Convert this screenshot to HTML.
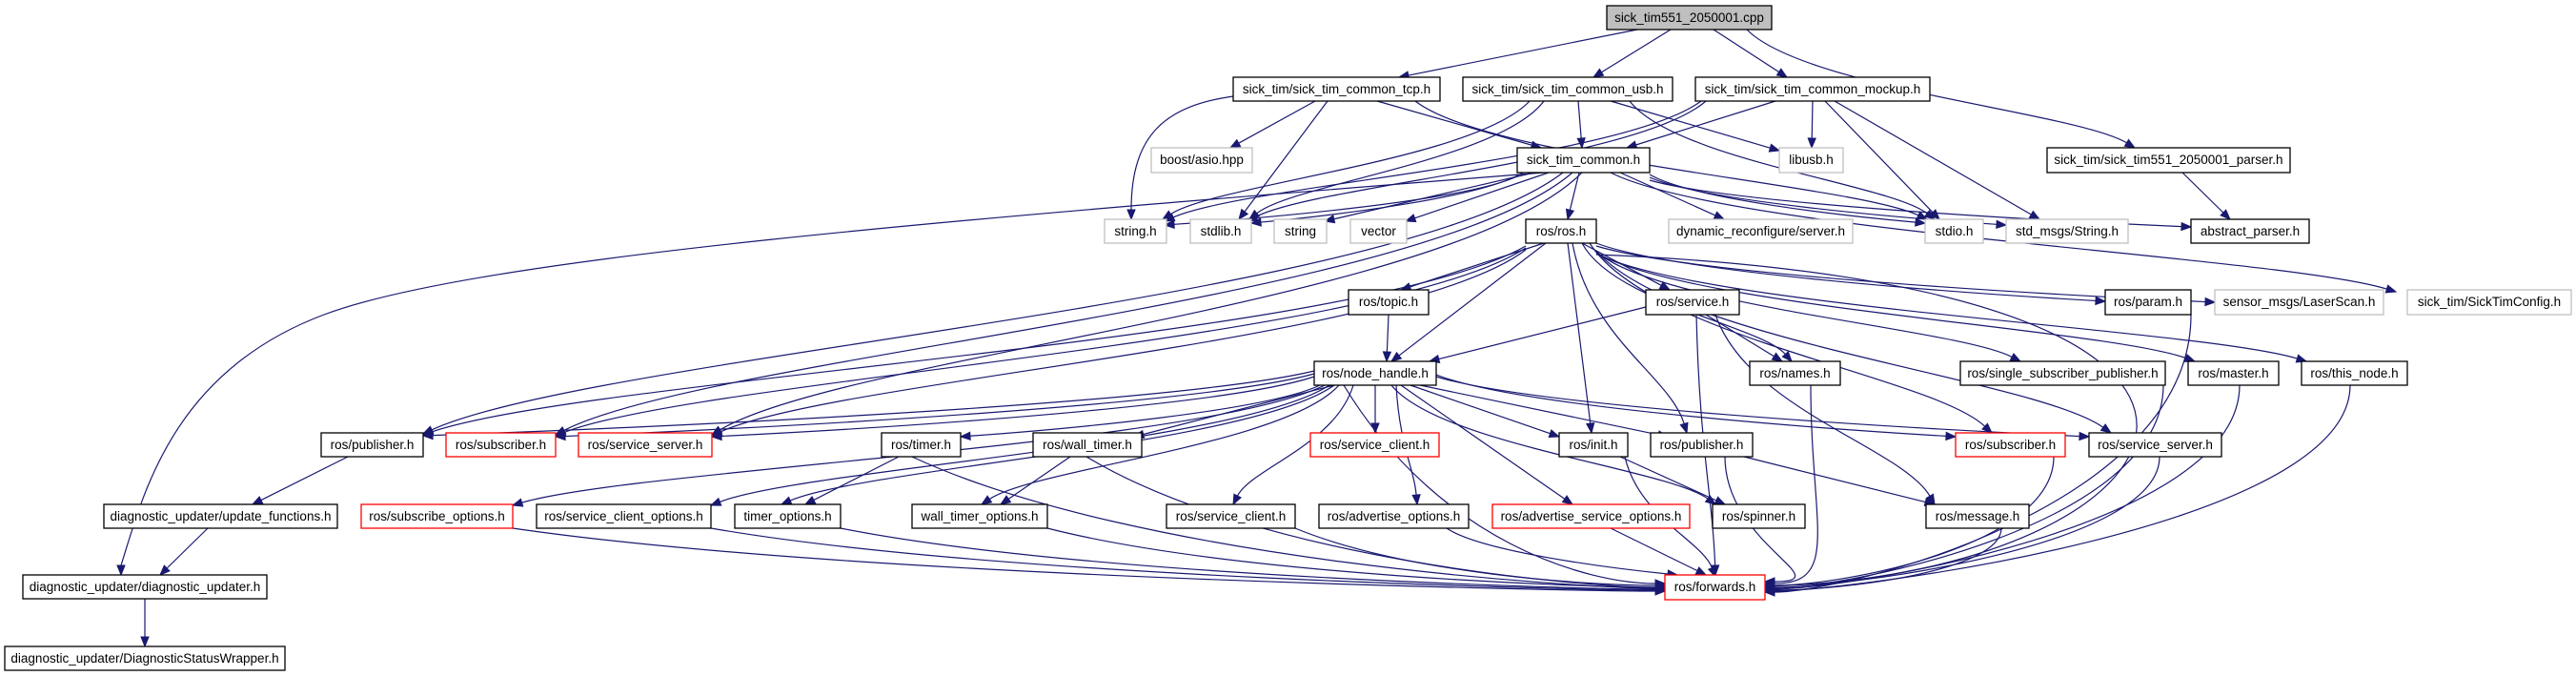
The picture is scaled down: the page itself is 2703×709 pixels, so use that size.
<!DOCTYPE html>
<html><head><meta charset="utf-8"><style>
html,body{margin:0;padding:0;background:#fff;}
svg{display:block;}
text{font-family:"Liberation Sans",sans-serif;font-size:13.5px;fill:#000;}
rect{fill:#fff;stroke-width:1.3;}
.b{stroke:#000;}
.g{stroke:#bfbfbf;}
.r{stroke:#ff0000;}
.root{fill:#bfbfbf;stroke:#000;}
</style></head><body>
<svg id="s" width="2703" height="709" viewBox="0 0 2703 709" xmlns="http://www.w3.org/2000/svg">
<g id="edges" fill="none" stroke="#191970" stroke-width="1.2"></g>
<g id="heads" fill="#191970" stroke="#191970"></g>
<g id="nodes">
<rect class="root" x="1686" y="6" width="173" height="25"/><text x="1772.5" y="23" text-anchor="middle">sick_tim551_2050001.cpp</text>
<rect class="b" x="1294" y="81" width="217" height="25"/><text x="1402.5" y="98" text-anchor="middle">sick_tim/sick_tim_common_tcp.h</text>
<rect class="b" x="1535" y="81" width="220" height="25"/><text x="1645" y="98" text-anchor="middle">sick_tim/sick_tim_common_usb.h</text>
<rect class="b" x="1779" y="81" width="246" height="25"/><text x="1902" y="98" text-anchor="middle">sick_tim/sick_tim_common_mockup.h</text>
<rect class="g" x="1208" y="155" width="106" height="26"/><text x="1261" y="172" text-anchor="middle">boost/asio.hpp</text>
<rect class="b" x="1592" y="155" width="139" height="26"/><text x="1661.5" y="172" text-anchor="middle">sick_tim_common.h</text>
<rect class="g" x="1867" y="155" width="67" height="26"/><text x="1900.5" y="172" text-anchor="middle">libusb.h</text>
<rect class="b" x="2148" y="155" width="255" height="26"/><text x="2275.5" y="172" text-anchor="middle">sick_tim/sick_tim551_2050001_parser.h</text>
<rect class="g" x="1159" y="230" width="65" height="25"/><text x="1191.5" y="247" text-anchor="middle">string.h</text>
<rect class="g" x="1249" y="230" width="64" height="25"/><text x="1281" y="247" text-anchor="middle">stdlib.h</text>
<rect class="g" x="1337" y="230" width="55" height="25"/><text x="1364.5" y="247" text-anchor="middle">string</text>
<rect class="g" x="1417" y="230" width="59" height="25"/><text x="1446.5" y="247" text-anchor="middle">vector</text>
<rect class="b" x="1601" y="230" width="74" height="25"/><text x="1638" y="247" text-anchor="middle">ros/ros.h</text>
<rect class="g" x="1751" y="230" width="193" height="25"/><text x="1847.5" y="247" text-anchor="middle">dynamic_reconfigure/server.h</text>
<rect class="g" x="2020" y="230" width="61" height="25"/><text x="2050.5" y="247" text-anchor="middle">stdio.h</text>
<rect class="g" x="2105" y="230" width="128" height="25"/><text x="2169" y="247" text-anchor="middle">std_msgs/String.h</text>
<rect class="b" x="2299" y="230" width="124" height="25"/><text x="2361" y="247" text-anchor="middle">abstract_parser.h</text>
<rect class="b" x="1415" y="304" width="84" height="26"/><text x="1457" y="321" text-anchor="middle">ros/topic.h</text>
<rect class="b" x="1727" y="304" width="98" height="26"/><text x="1776" y="321" text-anchor="middle">ros/service.h</text>
<rect class="b" x="2209" y="304" width="90" height="26"/><text x="2254" y="321" text-anchor="middle">ros/param.h</text>
<rect class="g" x="2324" y="304" width="177" height="26"/><text x="2412.5" y="321" text-anchor="middle">sensor_msgs/LaserScan.h</text>
<rect class="g" x="2526" y="304" width="172" height="26"/><text x="2612" y="321" text-anchor="middle">sick_tim/SickTimConfig.h</text>
<rect class="b" x="1379" y="379" width="128" height="25"/><text x="1443" y="396" text-anchor="middle">ros/node_handle.h</text>
<rect class="b" x="1836" y="379" width="95" height="25"/><text x="1883.5" y="396" text-anchor="middle">ros/names.h</text>
<rect class="b" x="2057" y="379" width="215" height="25"/><text x="2164.5" y="396" text-anchor="middle">ros/single_subscriber_publisher.h</text>
<rect class="b" x="2296" y="379" width="95" height="25"/><text x="2343.5" y="396" text-anchor="middle">ros/master.h</text>
<rect class="b" x="2415" y="379" width="111" height="25"/><text x="2470.5" y="396" text-anchor="middle">ros/this_node.h</text>
<rect class="b" x="337" y="454" width="107" height="25"/><text x="390.5" y="471" text-anchor="middle">ros/publisher.h</text>
<rect class="r" x="468" y="454" width="115" height="25"/><text x="525.5" y="471" text-anchor="middle">ros/subscriber.h</text>
<rect class="r" x="607" y="454" width="140" height="25"/><text x="677" y="471" text-anchor="middle">ros/service_server.h</text>
<rect class="b" x="925" y="454" width="83" height="25"/><text x="966.5" y="471" text-anchor="middle">ros/timer.h</text>
<rect class="b" x="1084" y="454" width="114" height="25"/><text x="1141" y="471" text-anchor="middle">ros/wall_timer.h</text>
<rect class="r" x="1375" y="454" width="135" height="25"/><text x="1442.5" y="471" text-anchor="middle">ros/service_client.h</text>
<rect class="b" x="1636" y="454" width="72" height="25"/><text x="1672" y="471" text-anchor="middle">ros/init.h</text>
<rect class="b" x="1732" y="454" width="107" height="25"/><text x="1785.5" y="471" text-anchor="middle">ros/publisher.h</text>
<rect class="r" x="2052" y="454" width="115" height="25"/><text x="2109.5" y="471" text-anchor="middle">ros/subscriber.h</text>
<rect class="b" x="2192" y="454" width="139" height="25"/><text x="2261.5" y="471" text-anchor="middle">ros/service_server.h</text>
<rect class="b" x="109" y="529" width="245" height="25"/><text x="231.5" y="546" text-anchor="middle">diagnostic_updater/update_functions.h</text>
<rect class="r" x="379" y="529" width="159" height="25"/><text x="458.5" y="546" text-anchor="middle">ros/subscribe_options.h</text>
<rect class="b" x="563" y="529" width="183" height="25"/><text x="654.5" y="546" text-anchor="middle">ros/service_client_options.h</text>
<rect class="b" x="771" y="529" width="111" height="25"/><text x="826.5" y="546" text-anchor="middle">timer_options.h</text>
<rect class="b" x="957" y="529" width="142" height="25"/><text x="1028" y="546" text-anchor="middle">wall_timer_options.h</text>
<rect class="b" x="1224" y="529" width="135" height="25"/><text x="1291.5" y="546" text-anchor="middle">ros/service_client.h</text>
<rect class="b" x="1384" y="529" width="157" height="25"/><text x="1462.5" y="546" text-anchor="middle">ros/advertise_options.h</text>
<rect class="r" x="1566" y="529" width="207" height="25"/><text x="1669.5" y="546" text-anchor="middle">ros/advertise_service_options.h</text>
<rect class="b" x="1797" y="529" width="97" height="25"/><text x="1845.5" y="546" text-anchor="middle">ros/spinner.h</text>
<rect class="b" x="2021" y="529" width="108" height="25"/><text x="2075" y="546" text-anchor="middle">ros/message.h</text>
<rect class="b" x="24" y="603" width="256" height="25"/><text x="152" y="620" text-anchor="middle">diagnostic_updater/diagnostic_updater.h</text>
<rect class="r" x="1747" y="603" width="105" height="26"/><text x="1799.5" y="620" text-anchor="middle">ros/forwards.h</text>
<rect class="b" x="5" y="678" width="294" height="25"/><text x="152" y="695" text-anchor="middle">diagnostic_updater/DiagnosticStatusWrapper.h</text>
</g>
</svg>
<script>
var E=[
[1718,31,1468,81,'s'],[1753,31,1672,81,'s'],[1798,31,1875,81,'s'],[1833,31,2240,155,'c'],
[1294,101,1187,230,'tcp'],[1380,106,1291,155,'s'],[1393,106,1300,230,'s'],[1445,106,1617,155,'s'],[1485,106,2022,230,'c'],
[1605,106,1220,230,'c'],[1620,106,1311,230,'c'],[1656,106,1660,155,'s'],[1690,106,1867,158,'s'],[1710,106,2030,230,'c'],
[1785,106,1222,232,'c'],[1790,106,1309,232,'c'],[1863,106,1707,155,'s'],[1902,106,1901,155,'s'],[1915,106,2035,230,'s'],[1925,106,2140,230,'s'],
[2290,181,2340,230,'s'],
[1592,185,1222,236,'c'],[1598,181,1313,234,'c'],[1610,181,1390,232,'s'],[1625,181,1475,232,'s'],[1657,181,1645,230,'s'],[1700,181,1809,230,'s'],
[1731,183,2020,234,'c'],[1731,186,2105,236,'c'],[1731,189,2299,238,'c'],[1690,181,2514,306,'c'],
[1620,181,127,603,'diag'],[1640,181,444,455,'c'],[1650,181,583,456,'c'],[1660,181,747,456,'c'],
[1620,255,1470,304,'s'],[1660,255,1752,304,'s'],[1622,255,1460,379,'s'],[1645,255,1670,454,'s'],[1650,255,1770,454,'c'],
[1675,255,2209,316,'c'],[1675,258,2324,317,'c'],[1660,255,1880,379,'c'],[1668,255,2090,454,'c'],[1675,263,2215,454,'c'],
[1675,264,2120,379,'c'],[1675,265,2303,379,'c'],[1675,266,2420,379,'c'],[1675,267,1852,615,'far'],
[1601,258,444,456,'c'],[1601,260,583,457,'c'],[1601,262,747,457,'c'],
[1457,330,1455,379,'s'],[1727,322,1500,379,'s'],[1790,330,1870,379,'s'],[1800,330,2030,529,'c'],[1780,330,1800,603,'c'],
[1379,389,444,457,'c'],[1379,392,583,458,'c'],[1379,395,747,458,'c'],[1385,404,1008,458,'c'],[1400,404,1190,458,'s'],
[1443,404,1443,454,'s'],[1480,404,1636,458,'s'],[1490,404,1750,458,'s'],[1507,393,2052,458,'c'],[1507,395,2192,458,'c'],
[1390,404,538,530,'c'],[1395,404,746,530,'c'],[1400,404,820,529,'c'],[1405,404,1030,529,'c'],[1420,404,1294,529,'c'],
[1465,404,1487,529,'c'],[1470,404,1650,529,'s'],[1460,404,1800,529,'c'],[1410,404,1747,612,'c'],
[365,479,265,529,'s'],[218,554,168,603,'s'],[152,628,152,678,'s'],
[943,479,845,529,'s'],[957,479,1747,617,'c'],[1123,479,1050,529,'s'],[1140,479,1747,616,'c'],
[538,554,1747,620,'c'],[746,554,1747,619,'c'],[882,554,1747,618,'c'],[1099,554,1747,616,'c'],[1359,554,1747,614,'c'],[1518,554,1760,603,'c'],[1690,554,1790,603,'s'],
[1700,479,1810,529,'s'],[1705,479,1800,605,'c'],[1830,479,2030,529,'s'],[1810,479,1852,610,'c'],
[1900,404,1852,612,'c'],[2155,479,1852,614,'c'],[2266,479,1852,616,'c'],[2270,404,1852,617,'c'],[2350,404,1852,618,'c'],[2466,404,1852,620,'c'],[2100,554,1852,619,'c'],[2299,330,1852,621,'c']
];
var ep=document.getElementById('edges'),hp=document.getElementById('heads'),NS='http://www.w3.org/2000/svg';
E.forEach(function(e){
 var x1=e[0],y1=e[1],x2=e[2],y2=e[3],m=e[4],c1,c2;
 var dy=Math.max(20,(y2-y1)*0.5);
 if(m==='diag'){
  var p=document.createElementNS(NS,'path');
  p.setAttribute('d','M'+x1+','+y1+' C1000,230 500,270 340,330 S150,520 '+x2+','+(y2-10));ep.appendChild(p);
  head(x2,y2,0,1);return;
 }
 if(m==='s'){c1=[x1+(x2-x1)*0.33,y1+(y2-y1)*0.33];c2=[x1+(x2-x1)*0.66,y1+(y2-y1)*0.66];}
 else if(m==='tcp'){c1=[x1-70,y1+10];c2=[x2,y2-90];}
 else if(m==='far'){c1=[2500,300];c2=[2300,600];}
 else if(x2===1747){c1=[x1+(x2-x1)*0.3,y1+(y2-y1)*0.8];c2=[x2-80,y2];}
 else if(x2===1852){c1=[x1,y1+(y2-y1)*0.7];c2=[x2+80,y2];}
 else{c1=[x1+(x2-x1)*0.15,y1+dy];c2=[x2-(x2-x1)*0.15,y2-dy*0.6];
  if(Math.abs(y2-y1)<70){c2=[x2-(x2-x1)*0.3,y2-(y2-y1)*0.15];}}
 var vx=x2-c2[0],vy=y2-c2[1],L=Math.sqrt(vx*vx+vy*vy)||1;vx/=L;vy/=L;
 var bx=x2-vx*10,by=y2-vy*10;
 var p=document.createElementNS(NS,'path');
 p.setAttribute('d','M'+x1+','+y1+' C'+c1[0]+','+c1[1]+' '+c2[0]+','+c2[1]+' '+bx+','+by);
 ep.appendChild(p);head(x2,y2,vx,vy);
});
function head(x,y,vx,vy){
 var bx=x-vx*10,by=y-vy*10,px=-vy*4,py=vx*4;
 var t=document.createElementNS(NS,'polygon');
 t.setAttribute('points',x+','+y+' '+(bx+px)+','+(by+py)+' '+(bx-px)+','+(by-py));hp.appendChild(t);
}
</script>
</body></html>
